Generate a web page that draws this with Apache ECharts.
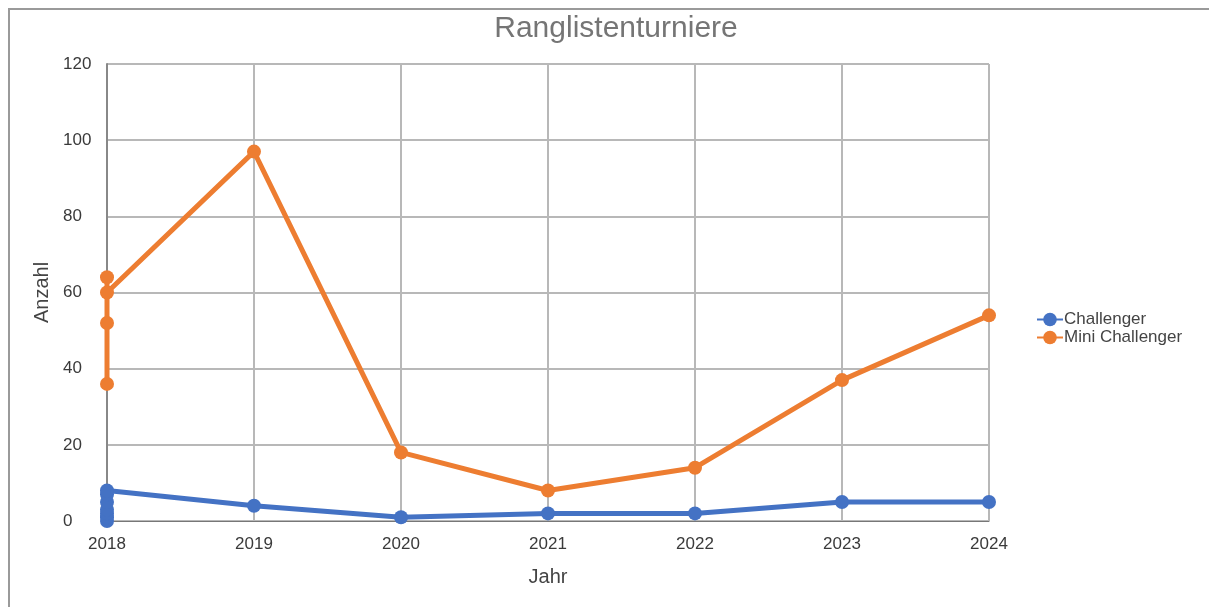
<!DOCTYPE html>
<html><head><meta charset="utf-8">
<script src="https://cdn.jsdelivr.net/npm/echarts@6/dist/echarts.min.js"></script>
<style>
html,body{margin:0;padding:0;background:#fff;}
#frame{position:absolute;left:8px;top:8px;width:1300px;height:700px;border-top:2px solid #9a9a9a;border-left:2px solid #9a9a9a;}
#c{position:absolute;left:0;top:0;width:1209px;height:607px;}
</style></head><body>
<div id="frame"></div>
<div id="c"></div>
<script>
const title = 'Ranglistenturniere';
const seriesNames = ['Challenger', 'Mini Challenger'];
const challengerYears = [2018, 2018, 2018, 2018, 2018, 2018, 2018, 2019, 2020, 2021, 2022, 2023, 2024];
const challengerValues = [0, 1, 2, 3, 5, 7, 8, 4, 1, 2, 2, 5, 5];
const miniYears = [2018, 2018, 2018, 2018, 2019, 2020, 2021, 2022, 2023, 2024];
const miniValues = [36, 52, 64, 60, 97, 18, 8, 14, 37, 54];

const chart = echarts.init(document.getElementById('c'), null, {renderer: 'canvas'});
const font = 'Liberation Sans, Arial, sans-serif';
chart.setOption({
  animation: false,
  backgroundColor: 'transparent',
  title: {text: title, left: 611, top: 9, textAlign: 'center',
    textStyle: {fontFamily: font, fontSize: 30, fontWeight: 'normal', color: '#757575'}},
  grid: {left: 107, right: 220, top: 64, bottom: 86},
  legend: {orient: 'vertical', left: 1031, top: 306, itemGap: 1, itemWidth: 26, itemHeight: 17,
    textStyle: {fontFamily: font, fontSize: 17, color: '#444', padding: [0, 0, 0, -4]}, data: seriesNames},
  xAxis: {type: 'value', min: 2018, max: 2024, interval: 1,
    name: 'Jahr', nameLocation: 'middle', nameGap: 46,
    nameTextStyle: {fontFamily: font, fontSize: 20, color: '#444'},
    axisLine: {show: true, lineStyle: {color: '#777', width: 1}}, axisTick: {show: false},
    axisLabel: {fontFamily: font, fontSize: 17, color: '#3a3a3a', margin: 15, formatter: v => String(v)},
    splitLine: {show: true, lineStyle: {color: '#b8b8b8', width: 2}}},
  yAxis: {type: 'value', min: 0, max: 120, interval: 20,
    name: 'Anzahl', nameLocation: 'middle', nameGap: 54, nameRotate: 90,
    nameTextStyle: {fontFamily: font, fontSize: 20, color: '#444'},
    axisLine: {show: true, lineStyle: {color: '#888', width: 2}}, axisTick: {show: false},
    axisLabel: {fontFamily: font, fontSize: 17, color: '#3a3a3a', margin: 44, align: 'left'},
    splitLine: {show: true, lineStyle: {color: '#b8b8b8', width: 2}}},
  series: [
    {name: seriesNames[0], type: 'line', data: challengerYears.map((y, i) => [y, challengerValues[i]]),
     color: '#4472C4', symbol: 'circle', symbolSize: 14, lineStyle: {width: 5}, z: 3},
    {name: seriesNames[1], type: 'line', data: miniYears.map((y, i) => [y, miniValues[i]]),
     color: '#ED7D31', symbol: 'circle', symbolSize: 14, lineStyle: {width: 5}, z: 4}
  ]
});
</script></body></html>
